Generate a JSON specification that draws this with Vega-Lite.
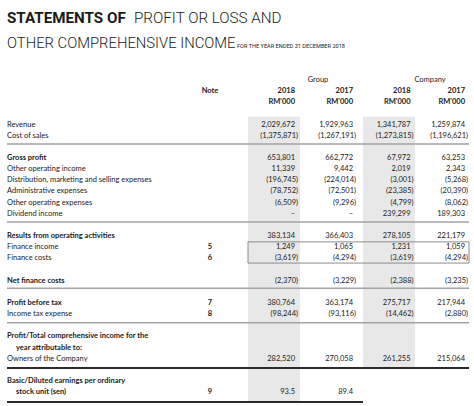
{
  "$schema": "https://vega.github.io/schema/vega-lite/v6.json",
  "width": 474,
  "height": 406,
  "autosize": "none",
  "padding": 0,
  "background": "white",
  "config": {"view": {"stroke": null}},
  "datasets": {
    "cells": [
      {"r": -5, "c": 0, "k": "t1b", "t": "STATEMENTS OF"},
      {"r": -5, "c": 0, "k": "t1", "t": "PROFIT OR LOSS AND"},
      {"r": -3, "c": 0, "k": "t2", "t": "OTHER COMPREHENSIVE INCOME"},
      {"r": -3, "c": 0, "k": "sub", "t": "FOR THE YEAR ENDED 31 DECEMBER 2018"},
      {"r": 0, "c": 3, "k": "group", "t": "Group"},
      {"r": 0, "c": 5, "k": "group", "t": "Company"},
      {"r": 1, "c": 1, "k": "note", "t": "Note"},
      {"r": 1, "c": 2, "k": "colhead", "t": "2018"},
      {"r": 1, "c": 3, "k": "colhead", "t": "2017"},
      {"r": 1, "c": 4, "k": "colhead", "t": "2018"},
      {"r": 1, "c": 5, "k": "colhead", "t": "2017"},
      {"r": 2, "c": 2, "k": "colhead", "t": "RM'000"},
      {"r": 2, "c": 3, "k": "colhead", "t": "RM'000"},
      {"r": 2, "c": 4, "k": "colhead", "t": "RM'000"},
      {"r": 2, "c": 5, "k": "colhead", "t": "RM'000"},

      {"r": 4, "c": 0, "k": "item", "t": "Revenue"},
      {"r": 4, "c": 2, "k": "num", "t": "2,029,672"},
      {"r": 4, "c": 3, "k": "num", "t": "1,929,963"},
      {"r": 4, "c": 4, "k": "num", "t": "1,341,787"},
      {"r": 4, "c": 5, "k": "num", "t": "1,259,874"},

      {"r": 5, "c": 0, "k": "item", "t": "Cost of sales"},
      {"r": 5, "c": 2, "k": "num", "t": "(1,375,871)"},
      {"r": 5, "c": 3, "k": "num", "t": "(1,267,191)"},
      {"r": 5, "c": 4, "k": "num", "t": "(1,273,815)"},
      {"r": 5, "c": 5, "k": "num", "t": "(1,196,621)"},

      {"r": 7, "c": 0, "k": "heading", "t": "Gross profit"},
      {"r": 7, "c": 2, "k": "num", "t": "653,801"},
      {"r": 7, "c": 3, "k": "num", "t": "662,772"},
      {"r": 7, "c": 4, "k": "num", "t": "67,972"},
      {"r": 7, "c": 5, "k": "num", "t": "63,253"},

      {"r": 8, "c": 0, "k": "item", "t": "Other operating income"},
      {"r": 8, "c": 2, "k": "num", "t": "11,339"},
      {"r": 8, "c": 3, "k": "num", "t": "9,442"},
      {"r": 8, "c": 4, "k": "num", "t": "2,019"},
      {"r": 8, "c": 5, "k": "num", "t": "2,343"},

      {"r": 9, "c": 0, "k": "item", "t": "Distribution, marketing and selling expenses"},
      {"r": 9, "c": 2, "k": "num", "t": "(196,745)"},
      {"r": 9, "c": 3, "k": "num", "t": "(224,014)"},
      {"r": 9, "c": 4, "k": "num", "t": "(3,001)"},
      {"r": 9, "c": 5, "k": "num", "t": "(5,268)"},

      {"r": 10, "c": 0, "k": "item", "t": "Administrative expenses"},
      {"r": 10, "c": 2, "k": "num", "t": "(78,752)"},
      {"r": 10, "c": 3, "k": "num", "t": "(72,501)"},
      {"r": 10, "c": 4, "k": "num", "t": "(23,385)"},
      {"r": 10, "c": 5, "k": "num", "t": "(20,390)"},

      {"r": 11, "c": 0, "k": "item", "t": "Other operating expenses"},
      {"r": 11, "c": 2, "k": "num", "t": "(6,509)"},
      {"r": 11, "c": 3, "k": "num", "t": "(9,296)"},
      {"r": 11, "c": 4, "k": "num", "t": "(4,799)"},
      {"r": 11, "c": 5, "k": "num", "t": "(8,062)"},

      {"r": 12, "c": 0, "k": "item", "t": "Dividend income"},
      {"r": 12, "c": 2, "k": "num", "t": "–"},
      {"r": 12, "c": 3, "k": "num", "t": "–"},
      {"r": 12, "c": 4, "k": "num", "t": "239,299"},
      {"r": 12, "c": 5, "k": "num", "t": "189,303"},

      {"r": 14, "c": 0, "k": "heading", "t": "Results from operating activities"},
      {"r": 14, "c": 2, "k": "num", "t": "383,134"},
      {"r": 14, "c": 3, "k": "num", "t": "366,403"},
      {"r": 14, "c": 4, "k": "num", "t": "278,105"},
      {"r": 14, "c": 5, "k": "num", "t": "221,179"},

      {"r": 15, "c": 0, "k": "item", "t": "Finance income"},
      {"r": 15, "c": 1, "k": "note", "t": "5"},
      {"r": 15, "c": 2, "k": "num", "t": "1,249"},
      {"r": 15, "c": 3, "k": "num", "t": "1,065"},
      {"r": 15, "c": 4, "k": "num", "t": "1,231"},
      {"r": 15, "c": 5, "k": "num", "t": "1,059"},

      {"r": 16, "c": 0, "k": "item", "t": "Finance costs"},
      {"r": 16, "c": 1, "k": "note", "t": "6"},
      {"r": 16, "c": 2, "k": "num", "t": "(3,619)"},
      {"r": 16, "c": 3, "k": "num", "t": "(4,294)"},
      {"r": 16, "c": 4, "k": "num", "t": "(3,619)"},
      {"r": 16, "c": 5, "k": "num", "t": "(4,294)"},

      {"r": 18, "c": 0, "k": "heading", "t": "Net finance costs"},
      {"r": 18, "c": 2, "k": "num", "t": "(2,370)"},
      {"r": 18, "c": 3, "k": "num", "t": "(3,229)"},
      {"r": 18, "c": 4, "k": "num", "t": "(2,388)"},
      {"r": 18, "c": 5, "k": "num", "t": "(3,235)"},

      {"r": 20, "c": 0, "k": "heading", "t": "Profit before tax"},
      {"r": 20, "c": 1, "k": "note", "t": "7"},
      {"r": 20, "c": 2, "k": "num", "t": "380,764"},
      {"r": 20, "c": 3, "k": "num", "t": "363,174"},
      {"r": 20, "c": 4, "k": "num", "t": "275,717"},
      {"r": 20, "c": 5, "k": "num", "t": "217,944"},

      {"r": 21, "c": 0, "k": "item", "t": "Income tax expense"},
      {"r": 21, "c": 1, "k": "note", "t": "8"},
      {"r": 21, "c": 2, "k": "num", "t": "(98,244)"},
      {"r": 21, "c": 3, "k": "num", "t": "(93,116)"},
      {"r": 21, "c": 4, "k": "num", "t": "(14,462)"},
      {"r": 21, "c": 5, "k": "num", "t": "(2,880)"},

      {"r": 23, "c": 0, "k": "heading", "t": "Profit/Total comprehensive income for the"},
      {"r": 24, "c": 0.5, "k": "heading", "t": "year attributable to:"},
      {"r": 25, "c": 0, "k": "item", "t": "Owners of the Company"},
      {"r": 25, "c": 2, "k": "num", "t": "282,520"},
      {"r": 25, "c": 3, "k": "num", "t": "270,058"},
      {"r": 25, "c": 4, "k": "num", "t": "261,255"},
      {"r": 25, "c": 5, "k": "num", "t": "215,064"},

      {"r": 27, "c": 0, "k": "heading", "t": "Basic/Diluted earnings per ordinary"},
      {"r": 28, "c": 0.5, "k": "heading", "t": "stock unit (sen)"},
      {"r": 28, "c": 1, "k": "note", "t": "9"},
      {"r": 28, "c": 2, "k": "num", "t": "93.5"},
      {"r": 28, "c": 3, "k": "num", "t": "89.4"}
    ],
    "shade": [
      {"c": 1.5, "c2": 2.5, "r": 3.3, "r2": 28.85},
      {"c": 3.5, "c2": 4.5, "r": 3.3, "r2": 25.8}
    ],
    "rules": [
      {"c": 0, "c2": 5.5, "r": 5.74, "k": "thin"},
      {"c": 0, "c2": 5.5, "r": 12.74, "k": "thin"},
      {"c": 0, "c2": 5.5, "r": 18.68, "k": "thin"},
      {"c": 0, "c2": 5.5, "r": 21.78, "k": "thin"},
      {"c": 0, "c2": 5.5, "r": 25.83, "k": "thick"},
      {"c": 0, "c2": 3.5, "r": 28.88, "k": "thick"}
    ],
    "box": [
      {"c": 1.5, "c2": 5.5, "r": 14.52, "r2": 16.42}
    ]
  },
  "encoding": {
    "x": {
      "field": "c",
      "type": "quantitative",
      "axis": null,
      "scale": {
        "domain": [0, 0.5, 1, 1.5, 2, 2.5, 3, 3.5, 4, 4.5, 5, 5.5],
        "range": [7, 16, 210, 248, 295, 300, 353, 363, 410.5, 415, 465, 469],
        "nice": false,
        "zero": false
      }
    },
    "y": {
      "field": "r",
      "type": "quantitative",
      "axis": null,
      "scale": {"domain": [-7.175, 29.24], "range": [0, 406], "nice": false, "zero": false}
    }
  },
  "layer": [
    {
      "data": {"name": "shade"},
      "mark": {"type": "rect", "fill": "#e8e8e8"},
      "encoding": {"x2": {"field": "c2"}, "y2": {"field": "r2"}}
    },
    {
      "data": {"name": "box"},
      "mark": {"type": "rect", "fill": null, "filled": false, "stroke": "#8c8c8c", "strokeWidth": 1},
      "encoding": {"x2": {"field": "c2"}, "y2": {"field": "r2"}}
    },
    {
      "data": {"name": "rules"},
      "transform": [{"filter": "datum.k == 'thin'"}],
      "mark": {"type": "rule", "stroke": "#a3a3a3", "strokeWidth": 1.5},
      "encoding": {"x2": {"field": "c2"}}
    },
    {
      "data": {"name": "rules"},
      "transform": [{"filter": "datum.k == 'thick'"}],
      "mark": {"type": "rule", "stroke": "#2b2b2b", "strokeWidth": 2},
      "encoding": {"x2": {"field": "c2"}}
    },
    {
      "data": {"name": "cells"},
      "transform": [{"filter": "datum.k == 't1b'"}],
      "mark": {"type": "text", "align": "left", "baseline": "alphabetic", "dy": -1, "font": "Roboto", "fontSize": 15.2, "fontWeight": "bold", "fill": "#1a1a1a"},
      "encoding": {"text": {"field": "t"}}
    },
    {
      "data": {"name": "cells"},
      "transform": [{"filter": "datum.k == 't1'"}],
      "mark": {"type": "text", "align": "left", "baseline": "alphabetic", "dx": 127, "dy": -1, "font": "Roboto", "fontSize": 15.2, "fontWeight": 300, "fill": "#1a1a1a"},
      "encoding": {"text": {"field": "t"}}
    },
    {
      "data": {"name": "cells"},
      "transform": [{"filter": "datum.k == 't2'"}],
      "mark": {"type": "text", "align": "left", "baseline": "alphabetic", "dy": 1.5, "font": "Roboto", "fontSize": 14.8, "fontWeight": 300, "fill": "#1a1a1a"},
      "encoding": {"text": {"field": "t"}}
    },
    {
      "data": {"name": "cells"},
      "transform": [{"filter": "datum.k == 'sub'"}],
      "mark": {"type": "text", "align": "left", "baseline": "alphabetic", "dx": 230, "dy": 1.5, "font": "Roboto", "fontSize": 5.6, "fill": "#1a1a1a"},
      "encoding": {"text": {"field": "t"}}
    },
    {
      "data": {"name": "cells"},
      "transform": [{"filter": "datum.k == 'group'"}],
      "mark": {"type": "text", "align": "center", "baseline": "middle", "dx": -35, "font": "Lato", "fontSize": 7.5, "fill": "#222"},
      "encoding": {"text": {"field": "t"}}
    },
    {
      "data": {"name": "cells"},
      "transform": [{"filter": "datum.k == 'colhead'"}],
      "mark": {"type": "text", "align": "right", "baseline": "middle", "font": "Lato", "fontSize": 7.5, "fontWeight": "bold", "fill": "#222"},
      "encoding": {"text": {"field": "t"}}
    },
    {
      "data": {"name": "cells"},
      "transform": [{"filter": "datum.k == 'note'"}],
      "mark": {"type": "text", "align": "center", "baseline": "middle", "font": "Lato", "fontSize": 7.5, "fontWeight": "bold", "fill": "#222"},
      "encoding": {"text": {"field": "t"}}
    },
    {
      "data": {"name": "cells"},
      "transform": [{"filter": "datum.k == 'item'"}],
      "mark": {"type": "text", "align": "left", "baseline": "middle", "font": "Lato", "fontSize": 7.5, "fill": "#222"},
      "encoding": {"text": {"field": "t"}}
    },
    {
      "data": {"name": "cells"},
      "transform": [{"filter": "datum.k == 'heading'"}],
      "mark": {"type": "text", "align": "left", "baseline": "middle", "font": "Lato", "fontSize": 7.5, "fontWeight": "bold", "fill": "#1a1a1a"},
      "encoding": {"text": {"field": "t"}}
    },
    {
      "data": {"name": "cells"},
      "transform": [{"filter": "datum.k == 'num' && !test(/^[(]/, datum.t)"}],
      "mark": {"type": "text", "align": "right", "baseline": "middle", "font": "Lato", "fontSize": 7.5, "fill": "#222"},
      "encoding": {"text": {"field": "t"}}
    },
    {
      "data": {"name": "cells"},
      "transform": [{"filter": "datum.k == 'num' && test(/^[(]/, datum.t)"}],
      "mark": {"type": "text", "align": "right", "baseline": "middle", "dx": 3, "font": "Lato", "fontSize": 7.5, "fill": "#222"},
      "encoding": {"text": {"field": "t"}}
    }
  ]
}
